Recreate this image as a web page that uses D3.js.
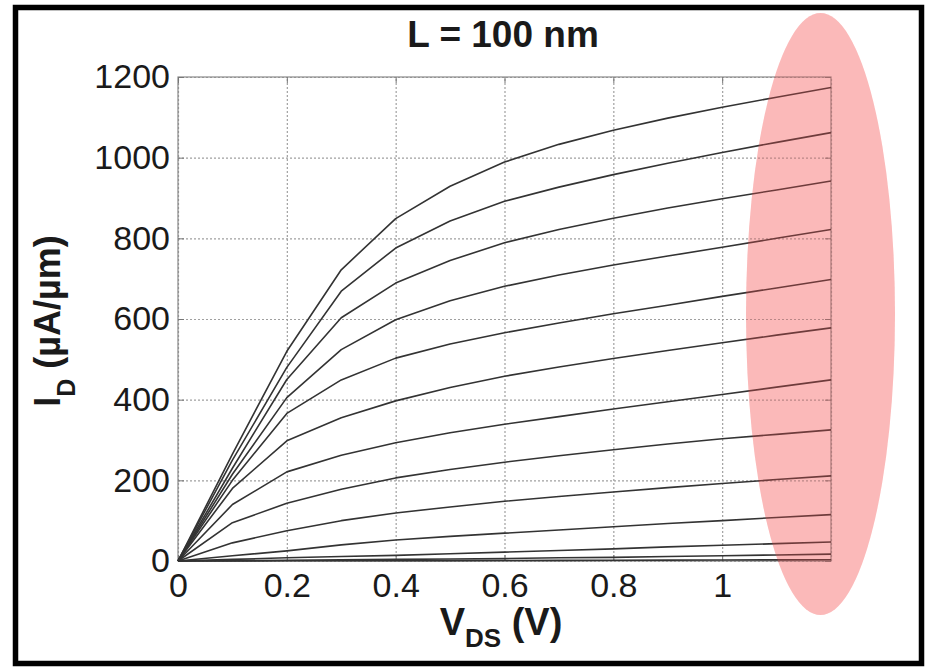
<!DOCTYPE html>
<html>
<head>
<meta charset="utf-8">
<script src="https://cdn.jsdelivr.net/npm/d3@7"></script>
<style>
  body { margin: 0; background: #fff; }
  svg { display: block; }
  text { font-family: "Liberation Sans", Arial, sans-serif; fill: #1a1a1a; }
</style>
</head>
<body>
<svg id="chart" width="926" height="669"></svg>
<script>
// drain voltage sweep (V)
const vds = [0, 0.1, 0.2, 0.3, 0.4, 0.5, 0.6, 0.7, 0.8, 0.9, 1.0, 1.1, 1.2];

// drain current (uA/um), one array per gate voltage step
const id_vg12 = [0, 265, 520, 722, 849, 929, 989, 1033, 1068, 1098, 1125, 1150, 1174];
const id_vg11 = [0, 250, 480, 669, 776, 843, 892, 927, 958, 986, 1013, 1038, 1062];
const id_vg10 = [0, 230, 450, 603, 689, 745, 789, 822, 850, 875, 898, 920, 942];
const id_vg09 = [0, 215, 405, 524, 598, 645, 681, 709, 734, 756, 778, 800, 822];
const id_vg08 = [0, 200, 366, 449, 503, 538, 566, 590, 613, 634, 656, 677, 698];
const id_vg07 = [0, 180, 298, 355, 397, 430, 458, 481, 502, 522, 541, 560, 578];
const id_vg06 = [0, 140, 221, 262, 293, 318, 339, 358, 377, 395, 413, 431, 449];
const id_vg05 = [0, 95, 143, 178, 206, 227, 245, 261, 276, 290, 303, 314, 325];
const id_vg04 = [0, 45, 75, 100, 119, 134, 148, 160, 171, 182, 192, 202, 211];
const id_vg03 = [0, 13, 25, 40, 52, 61, 69, 77, 85, 93, 100, 108, 115];
const id_vg02 = [0, 4, 8, 11, 14, 18, 22, 26, 30, 35, 39, 43, 47];
const id_vg01 = [0, 1, 2, 3, 4, 5, 6, 8, 9, 11, 13, 15, 17];
const id_vg00 = [0, 0.3, 0.5, 0.7, 0.9, 1, 1.3, 1.6, 1.9, 2.2, 2.5, 2.8, 3];

const xTicks = [0, 0.2, 0.4, 0.6, 0.8, 1];
const xGrid = [0, 0.2, 0.4, 0.6, 0.8, 1, 1.2];
const yTicks = [0, 200, 400, 600, 800, 1000, 1200];

const titleText = "L = 100 nm";

const curves = [id_vg12, id_vg11, id_vg10, id_vg09, id_vg08, id_vg07, id_vg06,
                id_vg05, id_vg04, id_vg03, id_vg02, id_vg01, id_vg00];

const svg = d3.select("#chart");
const W = 926, H = 669;
const pLeft = 178, pRight = 831, pTop = 77, pBottom = 561;

const x = d3.scaleLinear().domain([0, 1.2]).range([pLeft, pRight]);
const y = d3.scaleLinear().domain([0, 1200]).range([pBottom, pTop]);

svg.append("rect").attr("width", W).attr("height", H).attr("fill", "#fff");

// highlight ellipse: pale base under everything, tinted again on top later
const ell = { cx: 820.5, cy: 314, rx: 74.5, ry: 301 };
svg.append("ellipse")
    .attr("cx", ell.cx).attr("cy", ell.cy)
    .attr("rx", ell.rx).attr("ry", ell.ry)
    .attr("fill", "#fde7e7");

// dotted grid
const grid = svg.append("g");
grid.append("g")
    .attr("transform", "translate(0," + pBottom + ")")
    .call(d3.axisBottom(x).tickValues(xGrid).tickSize(-(pBottom - pTop)).tickFormat(""))
    .call(g => g.select(".domain").remove());
grid.append("g")
    .attr("transform", "translate(" + pLeft + ",0)")
    .call(d3.axisLeft(y).tickValues(yTicks).tickSize(-(pRight - pLeft)).tickFormat(""))
    .call(g => g.select(".domain").remove());
grid.selectAll("line")
    .attr("stroke", "#a0a0a0")
    .attr("stroke-width", 1.2)
    .attr("stroke-dasharray", "2,2");

// box
svg.append("rect")
    .attr("x", pLeft).attr("y", pTop)
    .attr("width", pRight - pLeft).attr("height", pBottom - pTop)
    .attr("fill", "none").attr("stroke", "#8a8a8a").attr("stroke-width", 1.2);

// axes, ticks pointing inward like matlab
const xAxis = svg.append("g")
    .attr("transform", "translate(0," + pBottom + ")")
    .call(d3.axisBottom(x).tickValues(xTicks).tickSize(-6).tickPadding(12).tickFormat(d3.format("~g")));
const yAxis = svg.append("g")
    .attr("transform", "translate(" + pLeft + ",0)")
    .call(d3.axisLeft(y).tickValues(yTicks).tickSize(-6).tickPadding(8).tickFormat(d3.format("d")));
const xTop = svg.append("g")
    .attr("transform", "translate(0," + pTop + ")")
    .call(d3.axisTop(x).tickValues(xTicks).tickSize(-6).tickFormat(""));
const yRight = svg.append("g")
    .attr("transform", "translate(" + pRight + ",0)")
    .call(d3.axisRight(y).tickValues(yTicks).tickSize(-6).tickFormat(""));

[xAxis, yAxis, xTop, yRight].forEach(a => {
    a.select(".domain").remove();
    a.selectAll(".tick line").attr("stroke", "#777");
    a.selectAll("text").attr("font-size", 34).attr("fill", "#1a1a1a")
        .attr("font-family", "'Liberation Sans', Arial, sans-serif");
});

// I-V curves
const line = d3.line()
    .x((d, i) => x(vds[i]))
    .y(d => y(d));

svg.append("g")
    .selectAll("path")
    .data(curves)
    .enter()
    .append("path")
    .attr("d", d => line(d))
    .attr("fill", "none")
    .attr("stroke", "#333")
    .attr("stroke-width", 1.6)
    .attr("stroke-linejoin", "round");

// title
svg.append("text")
    .attr("x", 503).attr("y", 47)
    .attr("text-anchor", "middle")
    .attr("font-size", 37).attr("font-weight", "bold")
    .text(titleText);

// x label V_DS (V)
const xl = svg.append("text")
    .attr("x", 501).attr("y", 635)
    .attr("text-anchor", "middle")
    .attr("font-size", 38).attr("font-weight", "bold");
xl.append("tspan").text("V");
xl.append("tspan").attr("font-size", 26).attr("dy", 12).text("DS");
xl.append("tspan").attr("dy", -12).text(" (V)");

// y label I_D (uA/um)
const yl = svg.append("text")
    .attr("transform", "translate(60,321) rotate(-90)")
    .attr("text-anchor", "middle")
    .attr("font-size", 36).attr("font-weight", "bold");
yl.append("tspan").text("I");
yl.append("tspan").attr("font-size", 25).attr("dy", 15).text("D");
yl.append("tspan").attr("dy", -15).text(" (\u00b5A/\u00b5m)");

// translucent red tint on top so the curve ends show through reddish
svg.append("ellipse")
    .attr("cx", ell.cx).attr("cy", ell.cy)
    .attr("rx", ell.rx).attr("ry", ell.ry)
    .attr("fill", "rgb(250,80,80)")
    .attr("fill-opacity", 0.3);

// outer frame
svg.append("rect")
    .attr("x", 15.5).attr("y", 7.5)
    .attr("width", 906).attr("height", 656)
    .attr("fill", "none")
    .attr("stroke", "#000")
    .attr("stroke-width", 5.5);
</script>
</body>
</html>
